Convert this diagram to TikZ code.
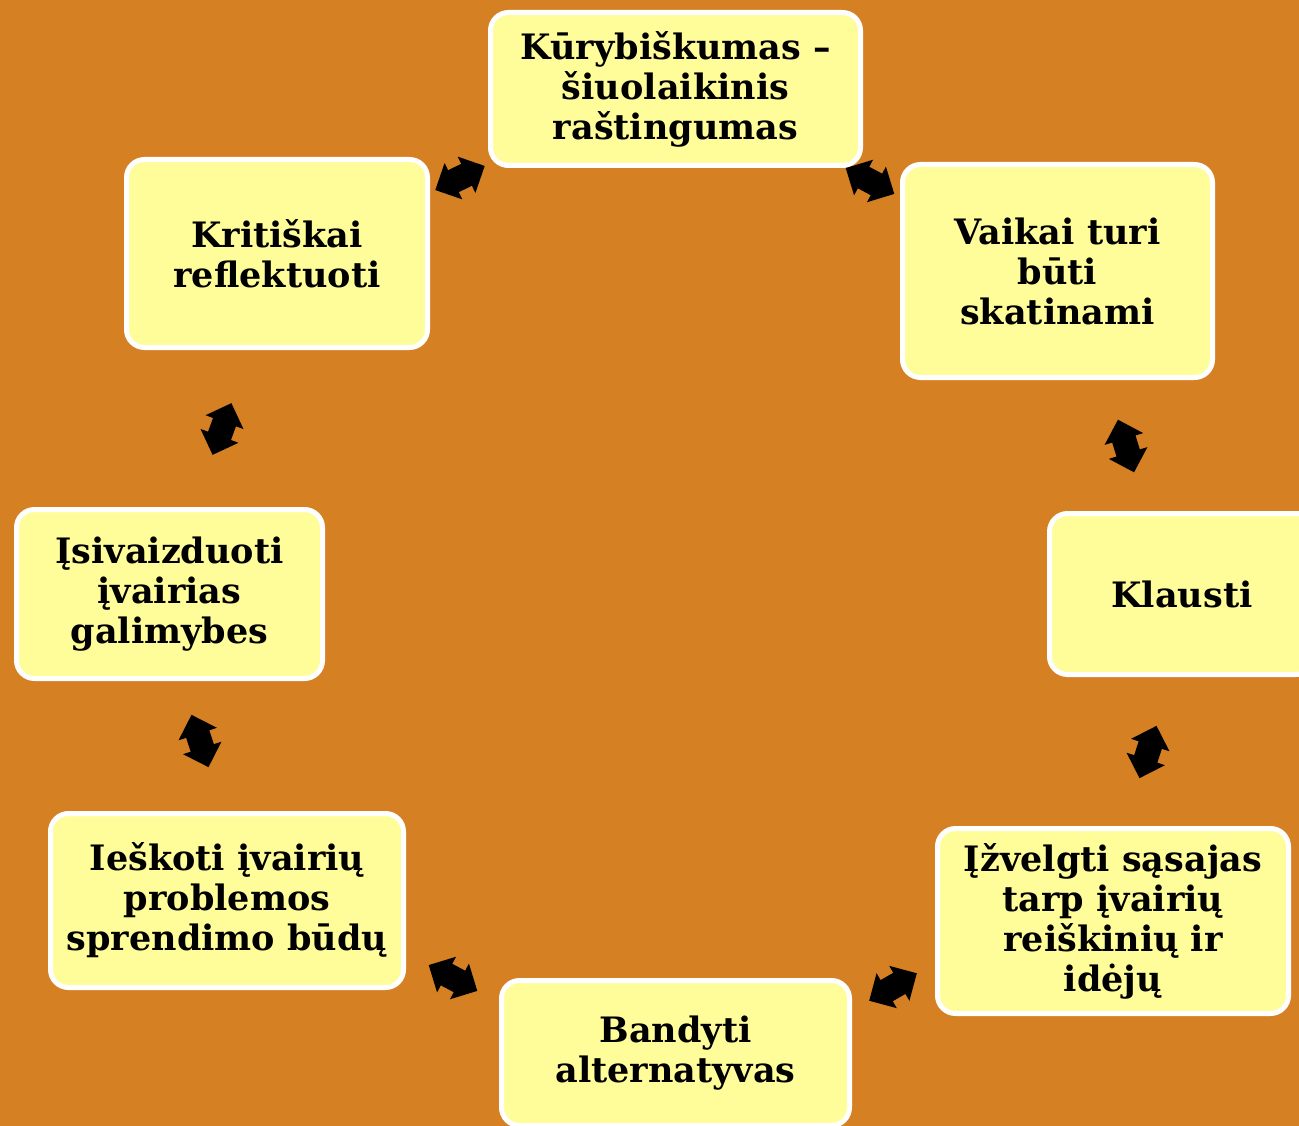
\documentclass[tikz,border=0pt]{standalone}
\usepackage{fontspec}
\setmainfont{DejaVu Serif}
\usetikzlibrary{shapes.arrows}
\definecolor{bgorange}{RGB}{214,128,36}
\definecolor{boxyellow}{RGB}{255,253,153}
\tikzset{
  box/.style={draw=white, line width=5pt, fill=boxyellow, rounded corners=18pt,
    align=center, inner sep=0pt, font=\bfseries\fontsize{35}{40}\selectfont},
  dbl/.style={double arrow, fill=black, draw=none, inner sep=12pt,
    minimum height=55pt, minimum width=40pt, double arrow head extend=8pt,
    double arrow tip angle=90}
}
\begin{document}
\begin{tikzpicture}[x=1pt,y=-1pt]
\useasboundingbox[fill=bgorange] (0,0) rectangle (1299,1126);
\node[box, minimum width=370pt, minimum height=153pt] (top) at (675.5,89) {Kūrybiškumas –\\šiuolaikinis\\raštingumas};
\node[box, minimum width=310pt, minimum height=213pt] (vaikai) at (1057.5,271) {Vaikai turi\\būti\\skatinami};
\node[box, minimum width=265pt, minimum height=161pt] (klausti) at (1182,594) {Klausti};
\node[box, minimum width=351pt, minimum height=185pt] (izvelgti) at (1113,921) {Įžvelgti sąsajas\\tarp įvairių\\reiškinių ir\\idėjų};
\node[box, minimum width=348pt, minimum height=145pt] (bandyti) at (675.5,1053) {Bandyti\\alternatyvas};
\node[box, minimum width=353pt, minimum height=174pt] (ieskoti) at (227,900.5) {Ieškoti įvairių\\problemos\\sprendimo būdų};
\node[box, minimum width=306pt, minimum height=169pt] (isivaizduoti) at (169.5,594) {Įsivaizduoti\\įvairias\\galimybes};
\node[box, minimum width=301pt, minimum height=188pt] (kritiskai) at (277,253.5) {Kritiškai\\reflektuoti};

\node[dbl, rotate=26] (a1) at (460,178) {};
\node[dbl, rotate=-28] (a2) at (870,181) {};
\node[dbl, rotate=-73] (a3) at (1126,446) {};
\node[dbl, rotate=72] (a4) at (1148,752) {};
\node[dbl, rotate=30] (a5) at (893,987) {};
\node[dbl, rotate=-28] (a6) at (453,978) {};
\node[dbl, rotate=-72] (a7) at (200,741) {};
\node[dbl, rotate=70] (a8) at (222,429) {};
\end{tikzpicture}
\end{document}
